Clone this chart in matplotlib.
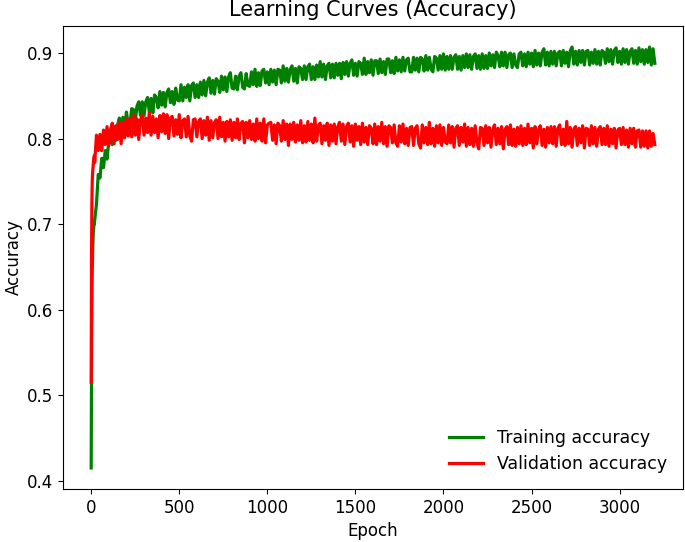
import numpy as np
import matplotlib
matplotlib.use("Agg")
import matplotlib.pyplot as plt

# epochs: dense start, then every 10 epochs
early_epochs = [0, 1, 2, 3, 4, 5, 6, 8, 10, 12, 14, 16, 18]
late_epochs = list(range(20, 3201, 10))
epochs = early_epochs + late_epochs

train_early = [0.415, 0.48, 0.54, 0.58, 0.61, 0.63, 0.645, 0.665, 0.68, 0.69, 0.695, 0.70, 0.70]
train_late = [
    0.705, 0.723, 0.758, 0.754, 0.777, 0.766, 0.786, 0.776, 0.797, 0.805, 0.793, 0.811, 0.798, 0.816, 0.824, 0.808, 0.825, 0.810, 0.831, 0.817,
    0.817, 0.835, 0.834, 0.820, 0.838, 0.843, 0.827, 0.843, 0.827, 0.843, 0.848, 0.831, 0.847, 0.830, 0.851, 0.848, 0.836, 0.855, 0.839, 0.854,
    0.837, 0.854, 0.858, 0.842, 0.855, 0.840, 0.859, 0.845, 0.844, 0.863, 0.844, 0.860, 0.848, 0.863, 0.844, 0.862, 0.865, 0.848, 0.863, 0.848,
    0.866, 0.851, 0.868, 0.850, 0.866, 0.871, 0.853, 0.868, 0.852, 0.870, 0.867, 0.854, 0.873, 0.857, 0.872, 0.855, 0.872, 0.877, 0.859, 0.858,
    0.873, 0.857, 0.873, 0.877, 0.860, 0.858, 0.876, 0.862, 0.861, 0.878, 0.863, 0.881, 0.861, 0.877, 0.862, 0.879, 0.881, 0.865, 0.878, 0.863,
    0.881, 0.866, 0.880, 0.863, 0.881, 0.880, 0.865, 0.885, 0.867, 0.882, 0.866, 0.881, 0.885, 0.867, 0.882, 0.865, 0.884, 0.882, 0.869, 0.885,
    0.869, 0.884, 0.887, 0.869, 0.884, 0.869, 0.886, 0.872, 0.890, 0.872, 0.887, 0.869, 0.885, 0.888, 0.871, 0.887, 0.871, 0.888, 0.874, 0.888,
    0.870, 0.889, 0.875, 0.890, 0.873, 0.888, 0.892, 0.874, 0.888, 0.873, 0.890, 0.888, 0.875, 0.894, 0.875, 0.890, 0.877, 0.892, 0.874, 0.891,
    0.891, 0.876, 0.893, 0.877, 0.890, 0.875, 0.893, 0.893, 0.877, 0.891, 0.876, 0.895, 0.879, 0.892, 0.878, 0.895, 0.879, 0.892, 0.894, 0.878,
    0.878, 0.895, 0.880, 0.894, 0.878, 0.895, 0.893, 0.879, 0.897, 0.880, 0.895, 0.881, 0.878, 0.896, 0.894, 0.880, 0.897, 0.881, 0.899, 0.880,
    0.896, 0.881, 0.897, 0.881, 0.895, 0.898, 0.881, 0.896, 0.880, 0.897, 0.883, 0.899, 0.883, 0.898, 0.881, 0.896, 0.899, 0.882, 0.897, 0.881,
    0.899, 0.882, 0.897, 0.882, 0.900, 0.885, 0.898, 0.883, 0.901, 0.897, 0.884, 0.901, 0.885, 0.901, 0.883, 0.898, 0.900, 0.883, 0.899, 0.886,
    0.883, 0.899, 0.901, 0.885, 0.899, 0.884, 0.901, 0.887, 0.900, 0.884, 0.903, 0.886, 0.900, 0.885, 0.901, 0.905, 0.886, 0.901, 0.885, 0.902,
    0.887, 0.902, 0.885, 0.900, 0.902, 0.885, 0.903, 0.888, 0.901, 0.884, 0.903, 0.907, 0.887, 0.902, 0.886, 0.903, 0.889, 0.903, 0.886, 0.902,
    0.903, 0.886, 0.901, 0.888, 0.904, 0.887, 0.902, 0.886, 0.903, 0.901, 0.888, 0.905, 0.890, 0.904, 0.887, 0.903, 0.906, 0.889, 0.902, 0.887,
    0.905, 0.889, 0.904, 0.887, 0.902, 0.905, 0.888, 0.903, 0.887, 0.906, 0.890, 0.904, 0.887, 0.904, 0.889, 0.907, 0.886, 0.905, 0.888,
]

val_early = [0.515, 0.60, 0.66, 0.70, 0.725, 0.74, 0.75, 0.76, 0.765, 0.77, 0.775, 0.778, 0.78]
val_late = [
    0.772, 0.804, 0.786, 0.805, 0.786, 0.810, 0.793, 0.814, 0.792, 0.811, 0.818, 0.794, 0.815, 0.799, 0.819, 0.794, 0.819, 0.801, 0.823, 0.803,
    0.823, 0.802, 0.827, 0.804, 0.823, 0.799, 0.822, 0.827, 0.804, 0.824, 0.807, 0.830, 0.804, 0.826, 0.807, 0.823, 0.801, 0.827, 0.808, 0.829,
    0.806, 0.828, 0.800, 0.824, 0.826, 0.803, 0.822, 0.805, 0.828, 0.801, 0.821, 0.823, 0.802, 0.826, 0.803, 0.797, 0.822, 0.823, 0.802, 0.820,
    0.823, 0.800, 0.821, 0.804, 0.825, 0.798, 0.821, 0.801, 0.819, 0.822, 0.800, 0.825, 0.802, 0.819, 0.797, 0.820, 0.802, 0.822, 0.798, 0.819,
    0.801, 0.823, 0.799, 0.818, 0.820, 0.795, 0.819, 0.801, 0.821, 0.799, 0.817, 0.797, 0.823, 0.800, 0.818, 0.797, 0.823, 0.795, 0.816, 0.818,
    0.819, 0.798, 0.816, 0.794, 0.818, 0.815, 0.797, 0.821, 0.799, 0.817, 0.792, 0.817, 0.799, 0.819, 0.796, 0.816, 0.798, 0.821, 0.795, 0.815,
    0.796, 0.820, 0.798, 0.817, 0.795, 0.824, 0.797, 0.815, 0.818, 0.794, 0.815, 0.798, 0.818, 0.792, 0.816, 0.797, 0.817, 0.794, 0.814, 0.819,
    0.797, 0.817, 0.793, 0.814, 0.818, 0.796, 0.815, 0.791, 0.817, 0.798, 0.814, 0.793, 0.818, 0.796, 0.813, 0.793, 0.815, 0.812, 0.794, 0.817,
    0.793, 0.814, 0.797, 0.819, 0.794, 0.814, 0.791, 0.815, 0.813, 0.795, 0.816, 0.795, 0.791, 0.815, 0.796, 0.817, 0.794, 0.812, 0.792, 0.813,
    0.814, 0.792, 0.812, 0.815, 0.794, 0.789, 0.816, 0.795, 0.813, 0.793, 0.819, 0.794, 0.812, 0.791, 0.815, 0.795, 0.816, 0.792, 0.813, 0.796,
    0.794, 0.816, 0.795, 0.814, 0.790, 0.812, 0.815, 0.792, 0.813, 0.796, 0.817, 0.791, 0.813, 0.793, 0.812, 0.791, 0.815, 0.795, 0.788, 0.813,
    0.812, 0.792, 0.815, 0.795, 0.813, 0.790, 0.811, 0.816, 0.793, 0.812, 0.794, 0.814, 0.788, 0.811, 0.814, 0.793, 0.816, 0.792, 0.811, 0.791,
    0.813, 0.794, 0.815, 0.792, 0.812, 0.793, 0.817, 0.795, 0.812, 0.789, 0.814, 0.794, 0.811, 0.815, 0.792, 0.811, 0.790, 0.813, 0.795, 0.814,
    0.794, 0.814, 0.791, 0.812, 0.816, 0.793, 0.811, 0.792, 0.820, 0.794, 0.813, 0.790, 0.811, 0.814, 0.792, 0.812, 0.795, 0.815, 0.789, 0.812,
    0.811, 0.792, 0.815, 0.794, 0.813, 0.791, 0.811, 0.814, 0.793, 0.812, 0.793, 0.815, 0.791, 0.811, 0.794, 0.812, 0.789, 0.810, 0.812, 0.793,
    0.813, 0.793, 0.810, 0.790, 0.812, 0.794, 0.812, 0.790, 0.809, 0.810, 0.790, 0.809, 0.791, 0.809, 0.789, 0.809, 0.791, 0.806, 0.793,
]

train_acc = train_early + train_late
val_acc = val_early + val_late

title = "Learning Curves (Accuracy)"
xlabel = "Epoch"
ylabel = "Accuracy"
labels = ["Training accuracy", "Validation accuracy"]

plt.rcParams['font.family'] = ['DejaVu Sans']
plt.rcParams['font.size'] = 12

fig = plt.figure(figsize=(6.85, 5.42), dpi=100)
ax = fig.add_axes([63 / 685, 53 / 542, 620 / 685, 463 / 542])
ax.plot(epochs, train_acc, color='green', lw=2.3, label=labels[0])
ax.plot(epochs, val_acc, color='red', lw=2.3, label=labels[1])
ax.set_title(title, fontsize=15, pad=7)
ax.set_xlabel(xlabel)
ax.set_ylabel(ylabel, labelpad=3)
ax.set_yticks([0.4, 0.5, 0.6, 0.7, 0.8, 0.9])
ax.legend(loc='lower right', frameon=False, fontsize=12.5)
fig.savefig("out.png", dpi=100)
